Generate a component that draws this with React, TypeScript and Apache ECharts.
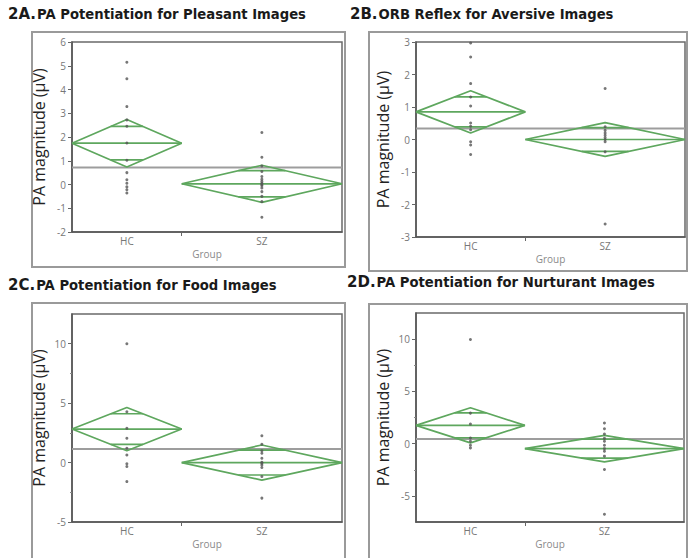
import React, { useEffect, useRef } from "react";
import * as echarts from "echarts";

// ---- data ----
const groups = ["HC", "SZ"];
const groupN = [13, 19];

const panelIds = ["2A.", "2B.", "2C.", "2D."];
const panelTitles = [
  "PA Potentiation for Pleasant Images",
  "ORB Reflex for Aversive Images",
  "PA Potentiation for Food Images",
  "PA Potentiation for Nurturant Images",
];
const yMins = [-2, -3, -5, -7.5];
const yMaxs = [6, 3, 12.5, 12.5];
const yMajorTicks = [
  [-2, -1, 0, 1, 2, 3, 4, 5, 6],
  [-3, -2, -1, 0, 1, 2, 3],
  [-5, 0, 5, 10],
  [-5, 0, 5, 10],
];
const yMinorTicks = [[], [], [-2.5, 2.5, 7.5], [-2.5, 2.5, 7.5]];

const hcA = [5.15, 4.45, 3.28, 2.72, 2.45, 1.75, 1.02, 0.5, 0.2, 0.05, -0.1, -0.22, -0.36];
const szA = [2.19, 1.15, 0.78, 0.55, 0.34, 0.22, 0.13, 0.05, 0.0, -0.05, -0.15, -0.3, -0.5, -0.72, -1.38];
const hcB = [2.97, 2.54, 1.72, 1.31, 1.03, 0.51, 0.41, 0.3, -0.07, -0.17, -0.46];
const szB = [1.57, 0.39, 0.28, 0.2, 0.13, 0.06, 0.0, -0.07, -0.38, -2.6];
const hcC = [10.0, 4.27, 2.88, 2.04, 1.2, 0.64, -0.1, -0.33, -1.6];
const szC = [2.26, 1.54, 1.0, 0.78, 0.36, 0.03, -0.05, -0.2, -0.42, -1.17, -2.99];
const hcD = [9.97, 2.92, 1.87, 0.54, 0.22, -0.16, -0.41];
const szD = [1.97, 1.43, 0.92, 0.5, 0.22, -0.16, -0.48, -0.73, -1.2, -2.48, -6.76];
const points = [
  [hcA, szA],
  [hcB, szB],
  [hcC, szC],
  [hcD, szD],
];

const groupMeans = [
  [1.74, 0.03],
  [0.85, 0.0],
  [2.82, 0.0],
  [1.75, -0.48],
];
const ciHalfWidths = [
  [1.0, 0.78],
  [0.65, 0.52],
  [1.82, 1.48],
  [1.68, 1.27],
];
const grandMeans = [0.72, 0.34, 1.15, 0.44];

// ---- layout ----
const grids = [
  { left: 72, top: 42, width: 270, height: 190 },
  { left: 416, top: 42, width: 269, height: 195 },
  { left: 72, top: 314, width: 270, height: 208 },
  { left: 416, top: 313, width: 268, height: 209 },
];
const frames = [
  { x: 32, y: 32, width: 313, height: 235 },
  { x: 369, y: 32, width: 318, height: 239 },
  { x: 32, y: 303, width: 313, height: 262 },
  { x: 369, y: 304, width: 318, height: 262 },
];
const titlePos = [
  { left: 8, top: 6 },
  { left: 350, top: 6 },
  { left: 8, top: 277 },
  { left: 347, top: 274 },
];

const GREEN = "#5ea75e";
const FONT = "'Open Sans', 'DejaVu Sans', sans-serif";
const TITLE_FONT = "'DejaVu Sans', sans-serif";

function buildOption() {
  const totalN = groupN[0] + groupN[1];
  const xAxis: any[] = [];
  const yAxis: any[] = [];
  const series: any[] = [];
  const title: any[] = [];
  const graphic: any[] = [];
  const centers = [groupN[0] / 2, groupN[0] + groupN[1] / 2];
  const starts = [0, groupN[0]];
  const ends = [groupN[0], totalN];

  for (let p = 0; p < 4; p++) {
    title.push({
      text: `{a|${panelIds[p]}}{b|${panelTitles[p]}}`,
      left: titlePos[p].left,
      top: titlePos[p].top,
      padding: 0,
      textStyle: {
        rich: {
          a: { fontSize: 15, fontWeight: "bold", color: "#1a1a1a", fontFamily: TITLE_FONT },
          b: { fontSize: 13.2, fontWeight: "bold", color: "#1a1a1a", fontFamily: TITLE_FONT, padding: [2, 0, 0, 1] },
        },
      },
    });
    graphic.push({
      type: "rect",
      shape: frames[p],
      style: { fill: "none", stroke: "#9a9a9a", lineWidth: 2 },
      silent: true,
    });

    xAxis.push({
      type: "value",
      gridIndex: p,
      min: 0,
      max: totalN,
      name: "Group",
      nameLocation: "middle",
      nameGap: 17,
      nameTextStyle: { color: "#8a8a8a", fontSize: 10, fontFamily: FONT },
      splitLine: { show: false },
      axisLine: { onZero: false, lineStyle: { color: "#555", width: 1.5 } },
      axisTick: { show: true, customValues: [groupN[0]], length: 4, lineStyle: { color: "#666" } },
      axisLabel: {
        customValues: centers,
        formatter: (v: number) => (v < groupN[0] ? groups[0] : groups[1]),
        color: "#777",
        fontSize: 10,
        margin: 4,
        fontFamily: FONT,
      },
    });
    const mainY = yAxis.length;
    yAxis.push({
      type: "value",
      gridIndex: p,
      min: yMins[p],
      max: yMaxs[p],
      name: "PA magnitude (\u00b5V)",
      nameLocation: "middle",
      nameGap: 25,
      nameTextStyle: { color: "#222", fontSize: 16, fontFamily: FONT },
      splitLine: { show: false },
      axisLine: { show: true, onZero: false, lineStyle: { color: "#555", width: 1.5 } },
      axisTick: { show: true, customValues: yMajorTicks[p], length: 4, lineStyle: { color: "#666" } },
      axisLabel: {
        customValues: yMajorTicks[p],
        color: "#777",
        fontSize: 10,
        margin: 6,
        fontFamily: FONT,
      },
    });
    if (yMinorTicks[p].length) {
      yAxis.push({
        type: "value",
        gridIndex: p,
        min: yMins[p],
        max: yMaxs[p],
        position: "left",
        splitLine: { show: false },
        axisLine: { show: false, onZero: false },
        axisTick: { show: true, customValues: yMinorTicks[p], length: 2, lineStyle: { color: "#888" } },
        axisLabel: { show: false },
      });
    }

    // grand mean
    series.push({
      type: "line",
      xAxisIndex: p,
      yAxisIndex: mainY,
      symbol: "none",
      lineStyle: { color: "#9d9d9d", width: 2 },
      data: [
        [0, grandMeans[p]],
        [totalN, grandMeans[p]],
      ],
      z: 2,
    });

    for (let g = 0; g < 2; g++) {
      const m = groupMeans[p][g];
      const h = ciHalfWidths[p][g];
      const x0 = starts[g];
      const x1 = ends[g];
      const xc = centers[g];
      const half = (x1 - x0) / 2;
      const ov = h / Math.SQRT2;
      const ovHalf = half * (1 - 1 / Math.SQRT2);
      const ls = { color: GREEN, width: 1.7 };
      series.push({
        type: "line",
        xAxisIndex: p,
        yAxisIndex: mainY,
        symbol: "none",
        lineStyle: ls,
        data: [
          [x0, m],
          [xc, m + h],
          [x1, m],
          [xc, m - h],
          [x0, m],
        ],
        z: 3,
      });
      series.push({
        type: "line",
        xAxisIndex: p,
        yAxisIndex: mainY,
        symbol: "none",
        lineStyle: ls,
        data: [
          [x0, m],
          [x1, m],
        ],
        z: 3,
      });
      series.push({
        type: "line",
        xAxisIndex: p,
        yAxisIndex: mainY,
        symbol: "none",
        lineStyle: ls,
        data: [
          [xc - ovHalf, m + ov],
          [xc + ovHalf, m + ov],
        ],
        z: 3,
      });
      series.push({
        type: "line",
        xAxisIndex: p,
        yAxisIndex: mainY,
        symbol: "none",
        lineStyle: ls,
        data: [
          [xc - ovHalf, m - ov],
          [xc + ovHalf, m - ov],
        ],
        z: 3,
      });
      series.push({
        type: "scatter",
        xAxisIndex: p,
        yAxisIndex: mainY,
        symbol: "circle",
        symbolSize: 3,
        itemStyle: { color: "#555" },
        data: points[p][g].map((v) => [xc, v]),
        z: 4,
      });
    }
  }

  return {
    animation: false,
    backgroundColor: "#ffffff",
    title,
    graphic,
    grid: grids.map((g) => ({
      ...g,
      show: true,
      borderColor: "#6a6a6a",
      borderWidth: 1.5,
      backgroundColor: "transparent",
    })),
    xAxis,
    yAxis,
    series,
  };
}

export default function App() {
  const ref = useRef<HTMLDivElement>(null);
  useEffect(() => {
    if (!ref.current) return;
    const chart = echarts.init(ref.current, undefined, { renderer: "svg" });
    chart.setOption(buildOption() as any);
    return () => chart.dispose();
  }, []);
  return (
    <div
      ref={ref}
      style={{ position: "absolute", left: 0, top: 0, width: 688, height: 558, background: "#fff" }}
    />
  );
}
